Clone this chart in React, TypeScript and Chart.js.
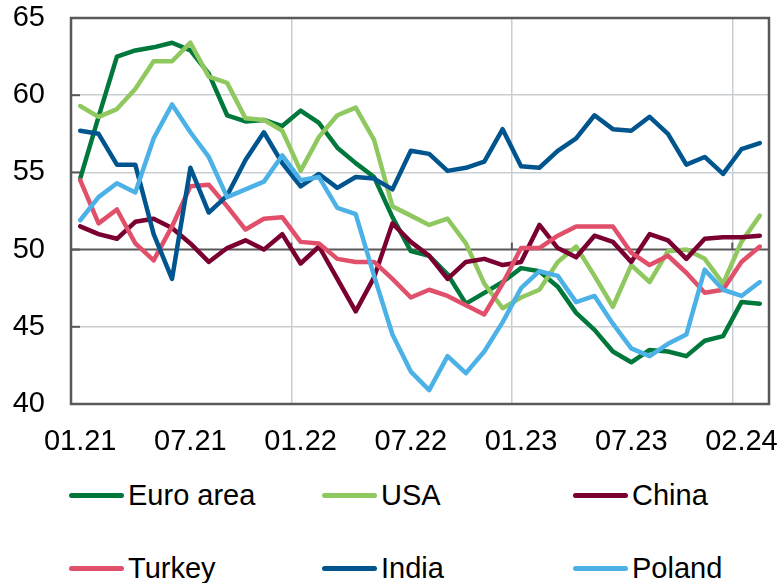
import React, { useEffect, useRef } from "react";
import { Chart, registerables } from "chart.js";

Chart.register(...registerables);

const categories = [
  "01.21", "02.21", "03.21", "04.21", "05.21", "06.21", "07.21", "08.21", "09.21", "10.21", "11.21", "12.21",
  "01.22", "02.22", "03.22", "04.22", "05.22", "06.22", "07.22", "08.22", "09.22", "10.22", "11.22", "12.22",
  "01.23", "02.23", "03.23", "04.23", "05.23", "06.23", "07.23", "08.23", "09.23", "10.23", "11.23", "12.23",
  "01.24", "02.24",
];

const euroArea = [
  54.6, 58.6, 62.5, 62.9, 63.1, 63.4, 62.9, 61.4, 58.7, 58.3, 58.4, 58.0,
  59.0, 58.2, 56.6, 55.6, 54.7, 52.1, 49.9, 49.6, 48.4, 46.5, 47.2, 47.9,
  48.8, 48.6, 47.6, 45.9, 44.8, 43.4, 42.7, 43.5, 43.4, 43.1, 44.1, 44.4,
  46.6, 46.5,
];
const usa = [
  59.3, 58.6, 59.1, 60.4, 62.2, 62.2, 63.4, 61.2, 60.8, 58.5, 58.4, 57.7,
  55.1, 57.3, 58.7, 59.2, 57.1, 52.8, 52.2, 51.6, 52.0, 50.4, 47.8, 46.2,
  46.9, 47.4, 49.2, 50.2, 48.3, 46.3, 49.0, 47.9, 49.9, 50.0, 49.4, 47.8,
  50.5, 52.2,
];
const china = [
  51.5, 51.0, 50.7, 51.8, 52.0, 51.4, 50.4, 49.2, 50.1, 50.6, 50.0, 51.0,
  49.1, 50.2, 48.1, 46.0, 48.2, 51.7, 50.5, 49.6, 48.1, 49.2, 49.4, 49.0,
  49.2, 51.6, 50.1, 49.5, 50.9, 50.5, 49.2, 51.0, 50.6, 49.4, 50.7, 50.8,
  50.8, 50.9,
];
const turkey = [
  54.5, 51.7, 52.6, 50.4, 49.3, 51.5, 54.1, 54.2, 52.8, 51.3, 52.0, 52.1,
  50.5, 50.4, 49.4, 49.2, 49.2, 48.1, 46.9, 47.4, 47.0, 46.4, 45.8, 47.8,
  50.1, 50.1, 50.9, 51.5, 51.5, 51.5, 49.8, 49.0, 49.6, 48.5, 47.2, 47.4,
  49.2, 50.2,
];
const india = [
  57.7, 57.5, 55.5, 55.5, 51.0, 48.1, 55.3, 52.4, 53.5, 55.8, 57.6, 55.6,
  54.1, 54.9, 54.0, 54.7, 54.6, 53.9, 56.4, 56.2, 55.1, 55.3, 55.7, 57.8,
  55.4, 55.3, 56.4, 57.2, 58.7, 57.8, 57.7, 58.6, 57.5, 55.5, 56.0, 54.9,
  56.5, 56.9,
];
const poland = [
  51.9, 53.4, 54.3, 53.7, 57.2, 59.4, 57.6, 56.0, 53.4, 53.9, 54.4, 56.1,
  54.5, 54.7, 52.7, 52.3, 48.3, 44.5, 42.1, 40.9, 43.1, 42.0, 43.4, 45.3,
  47.5, 48.6, 48.3, 46.6, 47.0, 45.2, 43.6, 43.1, 43.9, 44.5, 48.7, 47.4,
  47.0, 47.9,
];

const seriesNames = ["Euro area", "USA", "China", "Turkey", "India", "Poland"];
const seriesColors = ["#00783c", "#8fc85e", "#7a0031", "#e0506a", "#00558f", "#4bb1e6"];
const seriesData = [euroArea, usa, china, turkey, india, poland];

// indices of shown x tick labels
const xTickIndex = [0, 6, 12, 18, 24, 30];
const xLastLabelIndex = 36;
const yearBoundaryIndex = [12, 24, 36];

const FONT = "'Liberation Sans', Arial, Helvetica, sans-serif";
const FONT_SIZE = 29;
const GRID = "#c9ced2";
const FRAME = "#595959";

const framePlugin = {
  id: "frameAndTicks",
  beforeDatasetsDraw(chart: any) {
    const { ctx, chartArea, scales } = chart;
    const { left, right } = chartArea;
    const y = scales.y;
    const x = scales.x;
    ctx.save();
    ctx.strokeStyle = FRAME;
    const y50 = y.getPixelForValue(50);
    ctx.lineWidth = 2;
    ctx.beginPath();
    ctx.moveTo(left, y50);
    ctx.lineTo(right, y50);
    ctx.stroke();
    for (let v = 45; v < 65; v += 5) {
      const py = y.getPixelForValue(v);
      ctx.beginPath();
      ctx.moveTo(left, py);
      ctx.lineTo(left + 9, py);
      ctx.stroke();
    }
    for (const idx of yearBoundaryIndex) {
      const px = (x.getPixelForValue(idx) + x.getPixelForValue(idx - 1)) / 2;
      ctx.beginPath();
      ctx.moveTo(px, y50);
      ctx.lineTo(px, y50 - 7);
      ctx.stroke();
    }
    ctx.restore();
  },
  afterDraw(chart: any) {
    const { ctx, chartArea } = chart;
    const { left, right, top, bottom } = chartArea;
    ctx.save();
    ctx.strokeStyle = FRAME;
    ctx.lineWidth = 2.5;
    ctx.strokeRect(left, top, right - left, bottom - top);
    ctx.restore();
  },
};

export default function App() {
  const canvasRef = useRef<HTMLCanvasElement | null>(null);

  useEffect(() => {
    if (!canvasRef.current) return;
    const chart = new Chart(canvasRef.current, {
      type: "line",
      data: {
        labels: categories,
        datasets: seriesNames.map((name, i) => ({
          label: name,
          data: seriesData[i],
          borderColor: seriesColors[i],
          backgroundColor: seriesColors[i],
          borderWidth: 4.5,
          pointRadius: 0,
          pointHoverRadius: 0,
          tension: 0,
          fill: false,
          borderJoinStyle: "round" as const,
          borderCapStyle: "round" as const,
          order: seriesNames.length - i,
        })),
      },
      options: {
        animation: false,
        responsive: false,
        devicePixelRatio: 1,
        layout: { padding: { top: 18, right: 9, left: 0, bottom: 0 } },
        plugins: {
          legend: { display: false },
          tooltip: { enabled: false },
        },
        scales: {
          x: {
            type: "category",
            offset: true,
            border: { display: false },
            grid: {
              offset: true,
              drawTicks: false,
              lineWidth: 1.5,
              color: (ctx: any) => (yearBoundaryIndex.includes(ctx.index) ? GRID : "rgba(0,0,0,0)"),
            },
            ticks: {
              autoSkip: false,
              maxRotation: 0,
              minRotation: 0,
              padding: 21,
              color: "#000",
              font: { family: FONT, size: FONT_SIZE },
              callback: (_v: any, index: number) => {
                if (xTickIndex.includes(index)) return categories[index];
                if (index === xLastLabelIndex) return categories[categories.length - 1];
                return "";
              },
            },
            afterFit: (scale: any) => {
              scale.height = 56;
              scale.paddingLeft = 0;
              scale.paddingRight = 0;
            },
          },
          y: {
            min: 40,
            max: 65,
            border: { display: false },
            grid: {
              drawTicks: false,
              lineWidth: 1.5,
              color: (ctx: any) => {
                const v = ctx.tick && ctx.tick.value;
                return v === 40 || v === 50 || v === 65 ? "rgba(0,0,0,0)" : GRID;
              },
            },
            ticks: {
              stepSize: 5,
              padding: 26,
              color: "#000",
              font: { family: FONT, size: FONT_SIZE },
            },
            afterFit: (scale: any) => {
              scale.width = 71;
              scale.paddingTop = 0;
              scale.paddingBottom = 0;
            },
          },
        },
      },
      plugins: [framePlugin],
    });
    return () => chart.destroy();
  }, []);

  const legendCols = [69, 322, 573];
  const legendRows = [495, 568];

  return (
    <div style={{ position: "absolute", left: 0, top: 0, width: 778, height: 583, background: "#fff", overflow: "hidden" }}>
      <canvas ref={canvasRef} width={778} height={460} style={{ display: "block", width: 778, height: 460 }} />
      {seriesNames.map((name, i) => {
        const left = legendCols[i % 3];
        const cy = legendRows[Math.floor(i / 3)];
        return (
          <div key={name} style={{ position: "absolute", left, top: cy - 20, height: 40, display: "flex", alignItems: "center" }}>
            <div style={{ width: 55, height: 5, borderRadius: 3, background: seriesColors[i] }} />
            <span style={{ marginLeft: 4, fontFamily: FONT, fontSize: FONT_SIZE, color: "#000", lineHeight: "40px", whiteSpace: "nowrap" }}>
              {name}
            </span>
          </div>
        );
      })}
    </div>
  );
}
